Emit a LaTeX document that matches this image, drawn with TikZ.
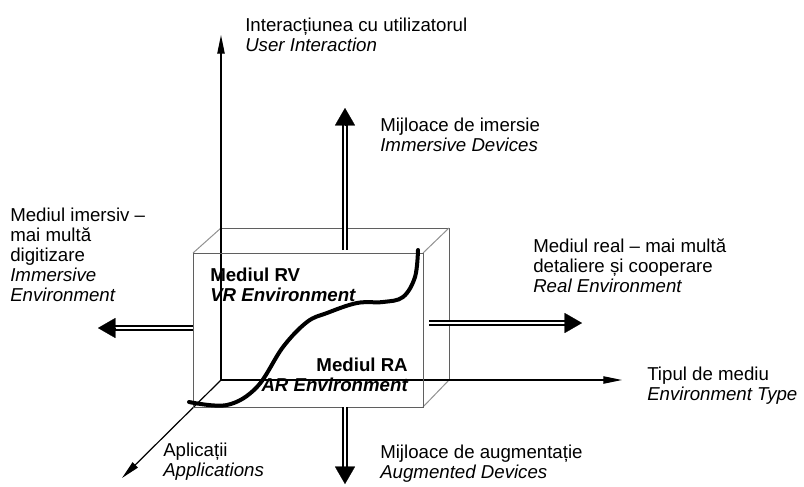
\documentclass[tikz,border=0pt]{standalone}
\usepackage{fontspec}
\setmainfont{Liberation Sans}
\usetikzlibrary{arrows.meta}

\begin{document}
\begin{tikzpicture}[x=0.75pt,y=0.75pt,yscale=-1,xscale=1,
  axisline/.style={line width=0.9pt,-{Triangle[length=14pt,width=5.5pt]}},
  dblshaft/.style={double,double distance=1.6pt,line width=1.5pt},
  dblhead/.style={line width=0.1pt,-{Triangle[length=13pt,width=15pt]}},
  facebox/.style={color={rgb, 255:red, 95; green, 95; blue, 95 },line width=0.75pt},
  depthline/.style={color={rgb, 255:red, 145; green, 145; blue, 145 },line width=0.75pt},
  lbl/.style={font=\fontsize{14}{15}\selectfont,align=left,inner sep=0pt,anchor=north west},
]
\useasboundingbox (0,0) rectangle (804,486);

%Box corners
\coordinate (fTL) at (193,253); \coordinate (fTR) at (423,253);
\coordinate (fBL) at (193,407); \coordinate (fBR) at (423,407);
\coordinate (bTL) at (221,228); \coordinate (bTR) at (449,228);
\coordinate (bBL) at (221,380); \coordinate (bBR) at (449,380);

%Back face and depth edges
\draw [facebox] (bTL) -- (bTR) -- (bBR) -- (bBL) -- cycle ;
\draw [depthline] (fTL) -- (bTL) (fTR) -- (bTR) (fBR) -- (bBR) ;

%Axes
\coordinate (yTip) at (221,35);
\coordinate (xTip) at (622,380);
\coordinate (zTip) at (122,478);
\draw [axisline] (bBL) -- (yTip) ;
\draw [axisline] (bBL) -- (xTip) ;
\draw [axisline] (bBL) -- (zTip) ;

%Front face
\draw [facebox] (fTL) -- (fTR) -- (fBR) -- (fBL) -- cycle ;

%Double arrows
\coordinate (upS) at (345,250); \coordinate (upB) at (345,125); \coordinate (upT) at (345,108);
\coordinate (dnS) at (345,407); \coordinate (dnB) at (345,467); \coordinate (dnT) at (345,484);
\coordinate (lfS) at (193,328); \coordinate (lfB) at (115,328); \coordinate (lfT) at (98,328);
\coordinate (rtS) at (429,323); \coordinate (rtB) at (565,323); \coordinate (rtT) at (582,323);
\draw [dblshaft] (upS) -- (upB) ; \draw [dblhead] (upB) -- (upT) ;
\draw [dblshaft] (dnS) -- (dnB) ; \draw [dblhead] (dnB) -- (dnT) ;
\draw [dblshaft] (lfS) -- (lfB) ; \draw [dblhead] (lfB) -- (lfT) ;
\draw [dblshaft] (rtS) -- (rtB) ; \draw [dblhead] (rtB) -- (rtT) ;

% Text Node
\node [lbl] (userint) at (245,18) {Interacțiunea cu utilizatorul\\\textit{User Interaction}};
% Text Node
\node [lbl] (immdev) at (380,118) {Mijloace de imersie\\\textit{Immersive Devices}};
% Text Node
\node [lbl] (immenv) at (10,208) {Mediul imersiv –\\mai multă\\digitizare\\\textit{Immersive}\\\textit{Environment}};
% Text Node
\node [lbl] (realenv) at (533,238) {Mediul real – mai multă\\detaliere și cooperare\\\textit{Real Environment}};
% Text Node
\node [lbl] (envtype) at (647,367) {Tipul de mediu\\\textit{Environment Type}};
% Text Node
\node [lbl] (apps) at (163,443) {Aplicații\\\textit{Applications}};
% Text Node
\node [lbl] (augdev) at (380,445) {Mijloace de augmentație\\\textit{Augmented Devices}};
% Text Node
\node [lbl] (vrenv) at (210,268) {\bfseries Mediul RV\\\bfseries\itshape VR Environment};
% Text Node
\node [lbl,anchor=north east,align=right] (arenv) at (408,358) {\bfseries Mediul RA\\\bfseries\itshape AR Environment};

%Curve
\draw [line width=3pt,line cap=round] plot [smooth,tension=0.6] coordinates {(189,402) (227,405) (257,387) (283,347) (307,322) (327,313) (357,303) (383,302) (403,297) (415,277) (418,250)};

\end{tikzpicture}
\end{document}
